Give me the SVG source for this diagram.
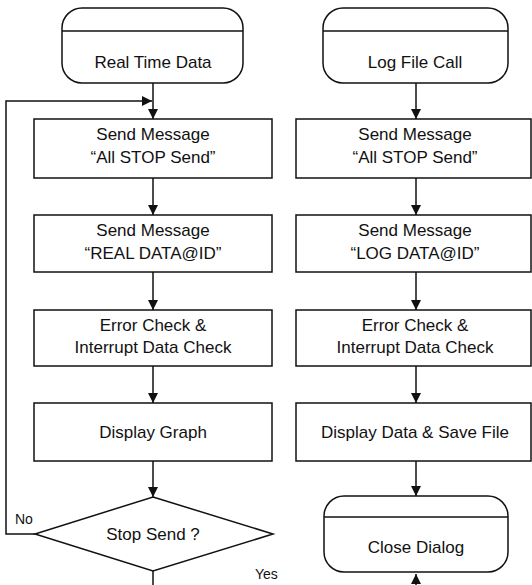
<svg xmlns="http://www.w3.org/2000/svg" width="532" height="585" viewBox="0 0 532 585">
<defs>
<marker id="ah" viewBox="0 0 10 10" refX="10" refY="5" markerWidth="10" markerHeight="10" markerUnits="userSpaceOnUse" orient="auto">
<path d="M0,0 L10,5 L0,10 z" fill="#111"/>
</marker>
<style>
.s{fill:#fff;stroke:#111;stroke-width:1.5}
.l{fill:none;stroke:#111;stroke-width:1.5}
.c{fill:none;stroke:#111;stroke-width:1.5;marker-end:url(#ah)}
text{font-family:"Liberation Sans",Arial,sans-serif;font-size:17px;fill:#111;text-anchor:middle}
.sm{font-size:14px;text-anchor:start}
</style>
</defs>
<rect width="532" height="585" fill="#fff"/>
<g id="connectors">
<line class="c" x1="153" y1="83" x2="153" y2="119"/>
<polyline class="c" points="35,534 6,534 6,101 152,101"/>
<line class="c" x1="153" y1="178" x2="153" y2="215"/>
<line class="c" x1="153" y1="272" x2="153" y2="310"/>
<line class="c" x1="153" y1="366" x2="153" y2="403"/>
<line class="c" x1="153" y1="461" x2="153" y2="497"/>
<line class="l" x1="153" y1="571" x2="153" y2="585"/>
<line class="c" x1="416" y1="83" x2="416" y2="119"/>
<line class="c" x1="416" y1="178" x2="416" y2="215"/>
<line class="c" x1="416" y1="272" x2="416" y2="310"/>
<line class="c" x1="416" y1="366" x2="416" y2="403"/>
<line class="c" x1="416" y1="461" x2="416" y2="496"/>
<line class="c" x1="416" y1="585" x2="416" y2="574"/>
<text class="sm" x="15" y="524">No</text>
<text class="sm" x="255" y="579">Yes</text>
</g>
<g id="realtime">
<rect class="s" x="62" y="8" width="181" height="75" rx="20"/>
<line class="l" x1="62" y1="31" x2="243" y2="31"/>
<text x="153" y="68">Real Time Data</text>
</g>
<g id="l_send1">
<rect class="s" x="34" y="119" width="238" height="59"/>
<text x="153" y="140">Send Message</text>
<text x="153" y="163">“All STOP Send”</text>
</g>
<g id="l_send2">
<rect class="s" x="34" y="215" width="238" height="57"/>
<text x="153" y="236">Send Message</text>
<text x="153" y="259">“REAL DATA@ID”</text>
</g>
<g id="l_check">
<rect class="s" x="34" y="310" width="238" height="56"/>
<text x="153" y="331">Error Check &amp;</text>
<text x="153" y="353">Interrupt Data Check</text>
</g>
<g id="l_graph">
<rect class="s" x="34" y="403" width="238" height="58"/>
<text x="153" y="438">Display Graph</text>
</g>
<g id="stopsend">
<polygon class="s" points="153,497 273,534 153,571 35,534"/>
<text x="153" y="540">Stop Send ?</text>
</g>
<g id="logfile">
<rect class="s" x="323" y="8" width="185" height="75" rx="20"/>
<line class="l" x1="323" y1="31" x2="508" y2="31"/>
<text x="415" y="68">Log File Call</text>
</g>
<g id="r_send1">
<rect class="s" x="296" y="119" width="235" height="59"/>
<text x="415" y="140">Send Message</text>
<text x="415" y="163">“All STOP Send”</text>
</g>
<g id="r_send2">
<rect class="s" x="296" y="215" width="235" height="57"/>
<text x="415" y="236">Send Message</text>
<text x="415" y="259">“LOG DATA@ID”</text>
</g>
<g id="r_check">
<rect class="s" x="296" y="310" width="235" height="56"/>
<text x="415" y="331">Error Check &amp;</text>
<text x="415" y="353">Interrupt Data Check</text>
</g>
<g id="r_display">
<rect class="s" x="296" y="403" width="235" height="58"/>
<text x="415" y="438">Display Data &amp; Save File</text>
</g>
<g id="closedialog">
<rect class="s" x="324" y="496" width="184" height="76" rx="20"/>
<line class="l" x1="324" y1="517" x2="508" y2="517"/>
<text x="416" y="553">Close Dialog</text>
</g>
</svg>
